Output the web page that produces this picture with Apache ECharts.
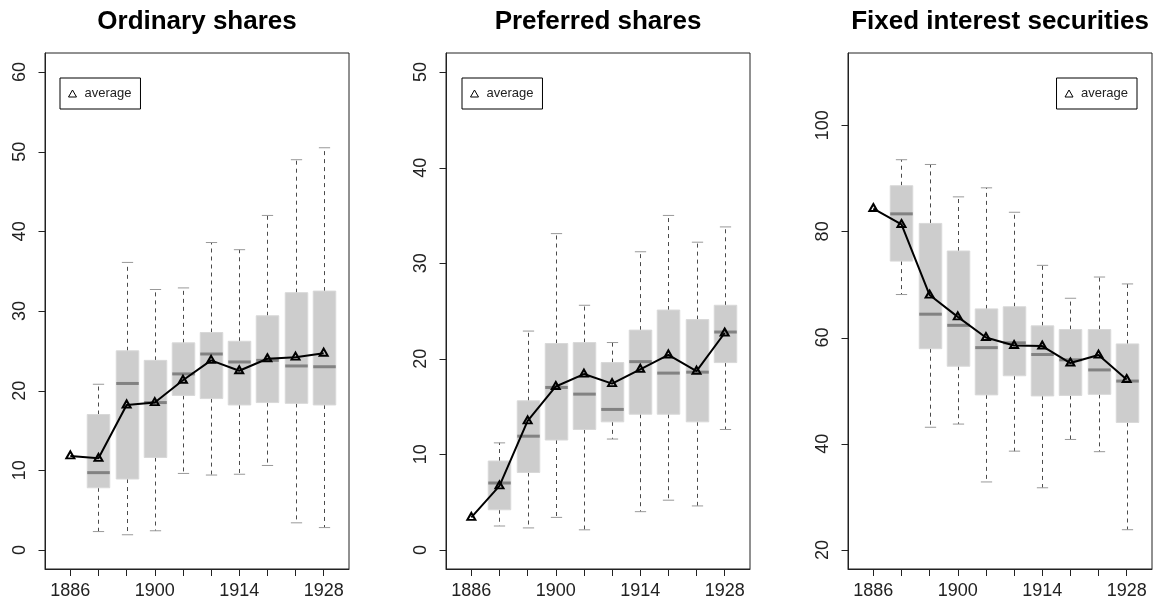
<!DOCTYPE html>
<html>
<head>
<meta charset="utf-8">
<script src="https://cdn.jsdelivr.net/npm/echarts@6/dist/echarts.min.js"></script>
<style>
  html, body { margin: 0; padding: 0; background: #fff; }
  #chart { width: 1157px; height: 604px; }
</style>
</head>
<body>
<div id="chart"></div>
<script>
// Box positions along the x axis and the year labels printed under them
const positions  = [1, 2, 3, 4, 5, 6, 7, 8, 9, 10];
const tickLabels = ['1886', '', '', '1900', '', '', '1914', '', '', '1928'];

// Ordinary shares: whisker ends, quartiles, median, average
const ordLow  = [null, 2.3, 1.9, 2.4, 9.6, 9.4, 9.5, 10.6, 3.4, 2.8];
const ordQ1   = [null, 7.8, 8.9, 11.6, 19.4, 19.0, 18.2, 18.5, 18.4, 18.2];
const ordMed  = [null, 9.7, 20.9, 18.5, 22.1, 24.6, 23.6, 23.8, 23.1, 23.0];
const ordQ3   = [null, 17.0, 25.0, 23.8, 26.0, 27.3, 26.2, 29.4, 32.3, 32.5];
const ordHigh = [null, 20.8, 36.1, 32.7, 32.9, 38.6, 37.7, 42.0, 49.0, 50.5];
const ordAvg  = [11.8, 11.5, 18.2, 18.5, 21.3, 23.8, 22.5, 24.0, 24.2, 24.7];

// Preferred shares
const prefLow  = [null, 2.5, 2.3, 3.4, 2.1, 11.6, 4.0, 5.2, 4.6, 12.6];
const prefQ1   = [null, 4.2, 8.1, 11.5, 12.6, 13.4, 14.2, 14.2, 13.4, 19.6];
const prefMed  = [null, 7.0, 11.9, 17.0, 16.3, 14.7, 19.7, 18.5, 18.6, 22.8];
const prefQ3   = [null, 9.3, 15.6, 21.6, 21.7, 19.6, 23.0, 25.1, 24.1, 25.6];
const prefHigh = [null, 11.2, 22.9, 33.1, 25.6, 21.7, 31.2, 35.0, 32.2, 33.8];
const prefAvg  = [3.4, 6.7, 13.5, 17.1, 18.4, 17.4, 18.9, 20.4, 18.7, 22.7];

// Fixed interest securities
const fixLow  = [null, 68.1, 43.1, 43.7, 32.8, 38.6, 31.7, 40.8, 38.5, 23.8];
const fixQ1   = [null, 74.4, 57.9, 54.6, 49.2, 52.8, 49.0, 49.1, 49.3, 44.0];
const fixMed  = [null, 83.3, 64.4, 62.3, 58.1, 59.0, 56.8, 55.8, 53.9, 51.8];
const fixQ3   = [null, 88.6, 81.5, 76.3, 65.4, 65.8, 62.2, 61.5, 61.5, 58.8];
const fixHigh = [null, 93.5, 92.6, 86.5, 88.2, 83.6, 73.6, 67.4, 71.4, 70.1];
const fixAvg  = [84.3, 81.3, 68.0, 63.9, 60.0, 58.5, 58.4, 55.2, 56.7, 52.1];

// Y tick values per panel
const ordTicks  = [0, 10, 20, 30, 40, 50, 60];
const prefTicks = [0, 10, 20, 30, 40, 50];
const fixTicks  = [20, 40, 60, 80, 100];

const FONT = '"Liberation Sans", Arial, Helvetica, sans-serif';
const INK = '#222';
const XMIN = 0.1, XMAX = 10.9;
const TICK_LEN = 7;

const panels = [
  { title: 'Ordinary shares', left: 45, ymin: -2.4, ymax: 62.4, ticks: ordTicks,
    low: ordLow, q1: ordQ1, med: ordMed, q3: ordQ3, high: ordHigh, avg: ordAvg,
    legend: { left: 60 } },
  { title: 'Preferred shares', left: 446, ymin: -2, ymax: 52, ticks: prefTicks,
    low: prefLow, q1: prefQ1, med: prefMed, q3: prefQ3, high: prefHigh, avg: prefAvg,
    legend: { left: 462 } },
  { title: 'Fixed interest securities', left: 848, ymin: 16.4, ymax: 113.6, ticks: fixTicks,
    low: fixLow, q1: fixQ1, med: fixMed, q3: fixQ3, high: fixHigh, avg: fixAvg,
    legend: { right: 20 } }
];

const PLOT_W = 304, PLOT_TOP = 53, PLOT_H = 516;

// Draws one box: filled IQR rectangle, dashed whiskers with solid caps, thick median bar
function renderBox(params, api) {
  const x = api.value(0);
  const pLow  = api.coord([x, api.value(1)]);
  const pQ1   = api.coord([x, api.value(2)]);
  const pMed  = api.coord([x, api.value(3)]);
  const pQ3   = api.coord([x, api.value(4)]);
  const pHigh = api.coord([x, api.value(5)]);
  const cx = Math.round(pLow[0]) + 0.5;
  const boxW = api.size([0.8, 0])[0];
  const capW = api.size([0.4, 0])[0];
  const whisker = { stroke: '#4a4a4a', lineWidth: 1, lineDash: [4, 4] };
  const cap = { stroke: '#999', lineWidth: 1 };
  return {
    type: 'group',
    children: [
      { type: 'line', shape: { x1: cx, y1: pQ3[1], x2: cx, y2: pHigh[1] }, style: whisker },
      { type: 'line', shape: { x1: cx, y1: pQ1[1], x2: cx, y2: pLow[1] }, style: whisker },
      { type: 'line', shape: { x1: cx - capW / 2, y1: pHigh[1], x2: cx + capW / 2, y2: pHigh[1] }, style: cap },
      { type: 'line', shape: { x1: cx - capW / 2, y1: pLow[1], x2: cx + capW / 2, y2: pLow[1] }, style: cap },
      { type: 'rect',
        shape: { x: cx - boxW / 2, y: pQ3[1], width: boxW, height: pQ1[1] - pQ3[1] },
        style: { fill: '#cdcdcd', stroke: '#d8d8d8', lineWidth: 1 } },
      { type: 'line',
        shape: { x1: cx - boxW / 2, y1: pMed[1], x2: cx + boxW / 2, y2: pMed[1] },
        style: { stroke: '#828282', lineWidth: 3 } }
    ]
  };
}

const option = {
  backgroundColor: '#fff',
  animation: false,
  title: [], grid: [], xAxis: [], yAxis: [], series: [], legend: []
};

panels.forEach((p, i) => {
  option.title.push({
    text: p.title,
    left: p.left + PLOT_W / 2,
    top: 9,
    textAlign: 'center',
    padding: 0,
    textStyle: { fontFamily: FONT, fontSize: 26, fontWeight: 'bold', color: '#000' }
  });
  option.grid.push({
    left: p.left, top: PLOT_TOP, width: PLOT_W, height: PLOT_H,
    show: true, borderColor: INK, borderWidth: 1, backgroundColor: 'transparent'
  });
  option.xAxis.push({
    type: 'value', gridIndex: i, min: XMIN, max: XMAX,
    position: 'bottom',
    axisLine: { show: true, onZero: false, lineStyle: { color: INK, width: 1 } },
    splitLine: { show: false },
    axisTick: { show: true, length: TICK_LEN, customValues: positions, lineStyle: { color: INK, width: 1 } },
    axisLabel: {
      customValues: positions,
      margin: 13,
      fontFamily: FONT, fontSize: 18, color: INK,
      formatter: v => tickLabels[Math.round(v) - 1] || ''
    }
  });
  option.yAxis.push({
    type: 'value', gridIndex: i, min: p.ymin, max: p.ymax,
    position: 'left',
    axisLine: { show: true, onZero: false, lineStyle: { color: INK, width: 1 } },
    splitLine: { show: false },
    axisTick: { show: false },
    axisLabel: {
      customValues: p.ticks,
      rotate: 90,
      margin: 16,
      fontFamily: FONT, fontSize: 18, color: INK
    }
  });

  const boxData = positions
    .map((x, k) => [x, p.low[k], p.q1[k], p.med[k], p.q3[k], p.high[k]])
    .filter(r => r[1] !== null);

  option.series.push({
    type: 'custom',
    name: 'boxes',
    xAxisIndex: i, yAxisIndex: i,
    renderItem: renderBox,
    encode: { x: 0, y: [1, 2, 3, 4, 5] },
    data: boxData,
    z: 2,
    silent: true
  });
  option.series.push({
    type: 'line',
    name: 'average',
    xAxisIndex: i, yAxisIndex: i,
    data: positions.map((x, k) => [x, p.avg[k]]),
    symbol: 'triangle',
    symbolSize: [8, 7],
    symbolOffset: [0, -1],
    showSymbol: true,
    lineStyle: { color: '#000', width: 2 },
    itemStyle: { color: 'rgba(0,0,0,0)', borderColor: '#000', borderWidth: 2 },
    z: 5,
    silent: true
  });

  option.legend.push(Object.assign({
    top: 78,
    orient: 'horizontal',
    data: [{ name: 'average', icon: 'triangle' }],
    selectedMode: false,
    padding: [9, 9, 9, 8],
    itemWidth: 8,
    itemHeight: 7,
    itemGap: 0,
    borderColor: '#000',
    borderWidth: 1,
    borderRadius: 0,
    backgroundColor: '#fff',
    itemStyle: { color: 'rgba(0,0,0,0)', borderColor: '#000', borderWidth: 1 },
    textStyle: { fontFamily: FONT, fontSize: 13, color: INK, padding: [0, 0, 0, 3] }
  }, p.legend));
});

const chart = echarts.init(document.getElementById('chart'), null, { renderer: 'canvas' });
chart.setOption(option);

// Outward y ticks on each frame's left edge, placed through each panel's own scale
const tickMarks = [];
panels.forEach((p, i) => {
  p.ticks.forEach(v => {
    const pt = chart.convertToPixel({ xAxisIndex: i, yAxisIndex: i }, [XMIN, v]);
    const x0 = Math.round(pt[0]) + 0.5;
    const y = Math.round(pt[1]) + 0.5;
    tickMarks.push({
      type: 'line',
      silent: true,
      z: 100,
      zlevel: 1,
      shape: { x1: x0 - TICK_LEN, y1: y, x2: x0, y2: y },
      style: { stroke: INK, lineWidth: 1 }
    });
  });
});
chart.setOption({ graphic: { elements: tickMarks } });
</script>
</body>
</html>
